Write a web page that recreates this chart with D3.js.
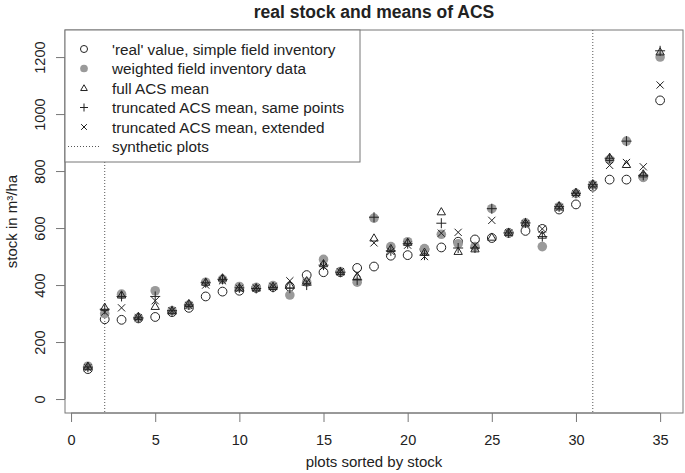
<!DOCTYPE html>
<html><head><meta charset="utf-8">
<script src="https://cdn.jsdelivr.net/npm/d3@7"></script>
<style>body{margin:0;background:#fff}svg{display:block;font-family:"Liberation Sans",Arial,sans-serif}</style>
</head><body><svg id="c" width="685" height="473"></svg>
<script>
const plots = d3.range(1, 36);
const realValue = [105,280,278,283,288,305,320,360,377,380,390,393,394,435,445,445,460,465,503,505,525,532,552,560,565,583,590,597,665,683,745,770,770,780,1048];
const weighted  = [115,300,368,285,380,310,330,410,420,395,392,398,365,410,490,447,410,635,535,552,528,578,545,535,668,583,618,535,675,722,752,840,905,778,1200];
const fullACS   = [115,322,365,290,325,310,335,410,425,390,390,395,400,415,475,447,430,565,528,550,515,657,518,527,568,585,618,575,678,725,755,848,823,790,1218];
const truncSame = [112,315,360,285,360,310,330,408,420,390,388,392,389,400,470,445,418,638,520,545,505,617,530,530,668,583,618,570,675,722,752,845,905,785,1222];
const truncExt  = [110,305,320,285,345,310,328,400,415,388,390,395,415,410,465,447,440,548,518,540,500,582,585,540,627,583,615,597,672,720,750,820,830,815,1102];
const syntheticAt = [2, 31];
const xTicks = [0,5,10,15,20,25,30,35];
const yTicks = [0,200,400,600,800,1000,1200];
const legendLabels = ["'real' value, simple field inventory","weighted field inventory data","full ACS mean","truncated ACS mean, same points","truncated ACS mean, extended","synthetic plots"];

const svg = d3.select("#c");
const L = 65, R = 683, T = 30, B = 413;
const x = d3.scaleLinear().domain([-0.36, 36.36]).range([L, R]);
const y = d3.scaleLinear().domain([-49, 1295]).range([B, T]);
const ink = "#222", axisCol = "#777", grey = "#9a9a9a";
const FF = "Liberation Sans, Arial, sans-serif";

svg.append("text").attr("x", (L+R)/2).attr("y", 18).attr("text-anchor","middle")
  .attr("font-size",17.5).attr("font-weight","bold").attr("fill","#222").text("real stock and means of ACS");

// x axis
const xa = svg.append("g").attr("transform",`translate(0,${B})`)
  .call(d3.axisBottom(x).tickValues(xTicks).tickSize(9).tickPadding(13).tickFormat(d3.format("d")));
xa.select(".domain").attr("d", `M${x(0)},0H${x(35)}`).attr("stroke",axisCol);
xa.selectAll(".tick line").attr("stroke",axisCol);
xa.selectAll("text").attr("font-size",14.5).attr("fill","#222").attr("font-family",FF);

// y axis
const ya = svg.append("g").attr("transform",`translate(${L},0)`)
  .call(d3.axisLeft(y).tickValues(yTicks).tickSize(9).tickFormat(d3.format("d")));
ya.select(".domain").attr("d", `M0,${y(0)}V${y(1200)}`).attr("stroke",axisCol);
ya.selectAll(".tick line").attr("stroke",axisCol);
ya.selectAll("text").attr("font-size",14.5).attr("fill","#222").attr("font-family",FF)
  .attr("text-anchor","middle").attr("x",0).attr("dy",0)
  .attr("transform","translate(-25,0) rotate(-90)").attr("y",5);

svg.append("text").attr("x",(L+R)/2).attr("y",467).attr("text-anchor","middle").attr("font-size",15).attr("fill","#222")
  .text("plots sorted by stock");
svg.append("text").attr("transform",`translate(17,${(T+B)/2}) rotate(-90)`).attr("text-anchor","middle").attr("font-size",15).attr("fill","#222")
  .text("stock in m³/ha");

// box
svg.append("rect").attr("x",L).attr("y",T).attr("width",R-L).attr("height",B-T).attr("fill","none").attr("stroke",axisCol);

// synthetic lines
svg.selectAll(".syn").data(syntheticAt).enter().append("line")
  .attr("x1",d=>x(d)).attr("x2",d=>x(d)).attr("y1",T).attr("y2",B)
  .attr("stroke","#555").attr("stroke-dasharray","1,2");

// marker drawers
function circleOpen(g,k){ g.append("circle").attr("r",4.4*k).attr("fill","none").attr("stroke",ink).attr("stroke-width",1); }
function circleFill(g,k){ g.append("circle").attr("r",4.8*k).attr("fill",grey); }
function triangle(g,k){ g.append("path").attr("d",d3.symbol(d3.symbolTriangle,30*k*k)()).attr("fill","none").attr("stroke",ink).attr("stroke-width",1).attr("transform","translate(0,0.6)"); }
function plus(g,k){ const a=5*k; g.append("path").attr("d",`M${-a},0H${a}M0,${-a}V${a}`).attr("stroke",ink).attr("stroke-width",1); }
function cross(g,k){ const a=3.6*k; g.append("path").attr("d",`M${-a},${-a}L${a},${a}M${-a},${a}L${a},${-a}`).attr("stroke",ink).attr("stroke-width",1); }

const series = [
  {vals: realValue, draw: circleOpen},
  {vals: weighted, draw: circleFill},
  {vals: fullACS, draw: triangle},
  {vals: truncSame, draw: plus},
  {vals: truncExt, draw: cross}
];
series.forEach(s => {
  plots.forEach((p,i) => {
    const g = svg.append("g").attr("transform",`translate(${x(p)},${y(s.vals[i])})`);
    s.draw(g, 1);
  });
});

// legend
const lg = svg.append("g");
lg.append("rect").attr("x",L).attr("y",T).attr("width",295).attr("height",132).attr("fill","#fff").attr("stroke",axisCol);
const rowY = [49,68.5,88,107.5,127,146.5];
const drawers = [circleOpen, circleFill, triangle, plus, cross];
legendLabels.forEach((lab,i) => {
  if (i < 5) {
    const g = lg.append("g").attr("transform",`translate(84,${rowY[i]})`);
    drawers[i](g, 0.8);
  } else {
    lg.append("line").attr("x1",68).attr("x2",99).attr("y1",rowY[i]).attr("y2",rowY[i]).attr("stroke","#555").attr("stroke-dasharray","1,2");
  }
  lg.append("text").attr("x",112).attr("y",rowY[i]+5.5).attr("font-size",15.3).attr("fill","#222").text(lab);
});
</script></body></html>
